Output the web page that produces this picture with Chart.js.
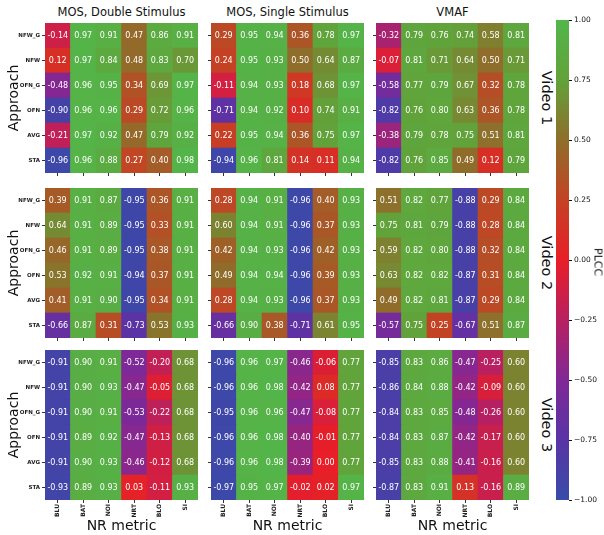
<!DOCTYPE html>
<html>
<head>
<meta charset="utf-8">
<script src="https://cdn.jsdelivr.net/npm/chart.js@4.4.0/dist/chart.umd.min.js"></script>
<style>
  body { margin: 0; background: #fff; width: 604px; height: 535px; position: relative; overflow: hidden; font-family: 'DejaVu Sans', sans-serif; }
  canvas { position: absolute; }
  .lbl { position: absolute; transform: translate(-50%, -50%); white-space: nowrap; color: #111; }
</style>
</head>
<body>
<script>
const approaches = ['NFW_G', 'NFW', 'OFN_G', 'OFN', 'AVG', 'STA'];
const metrics = ['BLU', 'BAT', 'NOI', 'NRT', 'BLO', 'SI'];
const panelTitles = ['MOS, Double Stimulus', 'MOS, Single Stimulus', 'VMAF'];
const videoLabels = ['Video 1', 'Video 2', 'Video 3'];
const cbarTicks = [-1, -0.75, -0.5, -0.25, 0, 0.25, 0.5, 0.75, 1];

// rows follow approaches, columns follow metrics
const v1DS = [
  [-0.14, 0.97, 0.91, 0.47, 0.86, 0.91],
  [0.12, 0.97, 0.84, 0.48, 0.83, 0.70],
  [-0.48, 0.96, 0.95, 0.34, 0.69, 0.97],
  [-0.90, 0.96, 0.96, 0.29, 0.72, 0.96],
  [-0.21, 0.97, 0.92, 0.47, 0.79, 0.92],
  [-0.96, 0.96, 0.88, 0.27, 0.40, 0.98]
];
const v1SS = [
  [0.29, 0.95, 0.94, 0.36, 0.78, 0.97],
  [0.24, 0.95, 0.93, 0.50, 0.64, 0.87],
  [-0.11, 0.94, 0.93, 0.18, 0.68, 0.97],
  [-0.71, 0.94, 0.92, 0.10, 0.74, 0.91],
  [0.22, 0.95, 0.94, 0.36, 0.75, 0.97],
  [-0.94, 0.96, 0.81, 0.14, 0.11, 0.94]
];
const v1VMAF = [
  [-0.32, 0.79, 0.76, 0.74, 0.58, 0.81],
  [-0.07, 0.81, 0.71, 0.64, 0.50, 0.71],
  [-0.58, 0.77, 0.79, 0.67, 0.32, 0.78],
  [-0.82, 0.76, 0.80, 0.63, 0.36, 0.78],
  [-0.38, 0.79, 0.78, 0.75, 0.51, 0.81],
  [-0.82, 0.76, 0.85, 0.49, 0.12, 0.79]
];
const v2DS = [
  [0.39, 0.91, 0.87, -0.95, 0.36, 0.91],
  [0.64, 0.91, 0.89, -0.95, 0.33, 0.91],
  [0.46, 0.91, 0.89, -0.95, 0.38, 0.91],
  [0.53, 0.92, 0.91, -0.94, 0.37, 0.91],
  [0.41, 0.91, 0.90, -0.95, 0.34, 0.91],
  [-0.66, 0.87, 0.31, -0.73, 0.53, 0.93]
];
const v2SS = [
  [0.28, 0.94, 0.91, -0.96, 0.40, 0.93],
  [0.60, 0.94, 0.91, -0.96, 0.37, 0.93],
  [0.42, 0.94, 0.93, -0.96, 0.42, 0.93],
  [0.49, 0.94, 0.94, -0.96, 0.39, 0.93],
  [0.28, 0.94, 0.93, -0.96, 0.37, 0.93],
  [-0.66, 0.90, 0.38, -0.71, 0.61, 0.95]
];
const v2VMAF = [
  [0.51, 0.82, 0.77, -0.88, 0.29, 0.84],
  [0.75, 0.81, 0.79, -0.88, 0.28, 0.84],
  [0.59, 0.82, 0.80, -0.88, 0.32, 0.84],
  [0.63, 0.82, 0.82, -0.87, 0.31, 0.84],
  [0.49, 0.82, 0.81, -0.87, 0.29, 0.84],
  [-0.57, 0.75, 0.25, -0.67, 0.51, 0.87]
];
const v3DS = [
  [-0.91, 0.90, 0.91, -0.52, -0.20, 0.68],
  [-0.91, 0.90, 0.93, -0.47, -0.05, 0.68],
  [-0.91, 0.90, 0.91, -0.53, -0.22, 0.68],
  [-0.91, 0.89, 0.92, -0.47, -0.13, 0.68],
  [-0.91, 0.90, 0.93, -0.46, -0.12, 0.68],
  [-0.93, 0.89, 0.93, 0.03, -0.11, 0.93]
];
const v3SS = [
  [-0.96, 0.96, 0.97, -0.46, -0.06, 0.77],
  [-0.96, 0.96, 0.98, -0.42, 0.08, 0.77],
  [-0.95, 0.96, 0.96, -0.47, -0.08, 0.77],
  [-0.96, 0.96, 0.98, -0.40, -0.01, 0.77],
  [-0.96, 0.96, 0.98, -0.39, 0.00, 0.77],
  [-0.97, 0.95, 0.97, -0.02, 0.02, 0.97]
];
const v3VMAF = [
  [-0.85, 0.83, 0.86, -0.47, -0.25, 0.60],
  [-0.86, 0.84, 0.88, -0.42, -0.09, 0.60],
  [-0.84, 0.83, 0.85, -0.48, -0.26, 0.60],
  [-0.84, 0.83, 0.87, -0.42, -0.17, 0.60],
  [-0.85, 0.83, 0.88, -0.41, -0.16, 0.60],
  [-0.87, 0.83, 0.91, 0.13, -0.16, 0.89]
];

const panels = [
  [v1DS, v1SS, v1VMAF],
  [v2DS, v2SS, v2VMAF],
  [v3DS, v3SS, v3VMAF]
];

// blue -> purple -> red -> brown -> green
const cmapStops = [
  [-1.0, [56, 76, 168]],
  [-0.75, [88, 52, 166]],
  [-0.5, [128, 40, 150]],
  [-0.25, [184, 32, 96]],
  [0.0, [232, 30, 40]],
  [0.25, [196, 66, 36]],
  [0.5, [142, 110, 42]],
  [0.75, [98, 162, 58]],
  [1.0, [82, 182, 74]]
];

function rgb(c) {
  return `rgb(${c.map(Math.round).join(',')})`;
}

function cmap(v) {
  v = Math.max(-1, Math.min(1, v));
  for (let i = 1; i < cmapStops.length; i++) {
    const [v1, c1] = cmapStops[i];
    const [v0, c0] = cmapStops[i - 1];
    if (v <= v1) {
      const t = (v - v0) / (v1 - v0);
      return rgb(c0.map((a, k) => a + (c1[k] - a) * t));
    }
  }
  return rgb(cmapStops[cmapStops.length - 1][1]);
}

const colLeft = [45, 211, 376];
const rowTop = [23, 188, 350];
const cellW = 153;
const cellH = 150;
const yTickFont = { family: 'DejaVu Sans', size: 5.5, weight: 'bold' };
const xTickFont = { family: 'DejaVu Sans', size: 6, weight: 'bold' };

const cellText = {
  id: 'cellText',
  afterDatasetsDraw(chart) {
    const ctx = chart.ctx;
    ctx.save();
    ctx.font = '8px "DejaVu Sans"';
    ctx.fillStyle = '#fff';
    ctx.textAlign = 'center';
    ctx.textBaseline = 'middle';
    chart.data.datasets.forEach((ds, di) => {
      chart.getDatasetMeta(di).data.forEach((bar, j) => {
        const p = bar.getProps(['x', 'y', 'base'], true);
        ctx.fillText(ds.values[j].toFixed(2), p.x, (p.y + p.base) / 2 + 0.5);
      });
    });
    ctx.restore();
  }
};

function addCanvas(left, top, w, h) {
  const c = document.createElement('canvas');
  c.width = w;
  c.height = h;
  c.style.left = left + 'px';
  c.style.top = top + 'px';
  c.style.width = w + 'px';
  c.style.height = h + 'px';
  document.body.appendChild(c);
  return c;
}

function addLabel(text, x, y, size, rotate) {
  const d = document.createElement('div');
  d.className = 'lbl';
  d.textContent = text;
  d.style.left = x + 'px';
  d.style.top = y + 'px';
  d.style.fontSize = size + 'px';
  if (rotate) d.style.transform = `translate(-50%, -50%) rotate(${rotate}deg)`;
  document.body.appendChild(d);
}

function makePanel(r, c, values) {
  const padL = c === 0 ? 44 : 4;
  const padB = r === 2 ? 30 : 4;
  const padT = 2, padR = 2;
  const canvas = addCanvas(colLeft[c] - padL, rowTop[r] - padT, cellW + padL + padR, cellH + padT + padB);

  // stacked bars, bottom dataset = last approach
  const datasets = approaches.map((name, i) => ({
    label: name,
    data: values[i].map(() => 1),
    values: values[i],
    backgroundColor: values[i].map(cmap),
    borderWidth: 0,
    barPercentage: 1,
    categoryPercentage: 1
  })).reverse();

  const gridOpts = { drawOnChartArea: false, drawTicks: true, tickLength: 3, color: '#333', offset: false };

  new Chart(canvas, {
    type: 'bar',
    data: { labels: metrics, datasets: datasets },
    options: {
      responsive: false,
      animation: false,
      layout: { padding: { top: padT, right: padR, left: 0, bottom: 0 } },
      plugins: { legend: { display: false }, tooltip: { enabled: false } },
      scales: {
        x: {
          stacked: true,
          grid: gridOpts,
          border: { display: false },
          ticks: { display: r === 2, font: xTickFont, color: '#222', maxRotation: 90, minRotation: 90, padding: 1, autoSkip: false },
          afterFit(s) { s.height = padB; s.paddingLeft = 0; s.paddingRight = 0; }
        },
        y: {
          stacked: true,
          min: 0,
          max: 6,
          grid: gridOpts,
          border: { display: false },
          afterBuildTicks(s) { s.ticks = approaches.map((_, i) => ({ value: 5.5 - i })); },
          ticks: { display: c === 0, font: yTickFont, color: '#222', padding: 2, callback: v => approaches[Math.round(5.5 - v)] },
          afterFit(s) { s.width = padL; s.paddingTop = 0; s.paddingBottom = 0; }
        }
      }
    },
    plugins: [cellText]
  });
}

panels.forEach((row, r) => row.forEach((vals, c) => makePanel(r, c, vals)));

// colorbar
const cbCanvas = addCanvas(556, 12, 48, 496);
new Chart(cbCanvas, {
  type: 'bar',
  data: {
    labels: [''],
    datasets: [{
      data: [[cbarTicks[0], cbarTicks[cbarTicks.length - 1]]],
      barPercentage: 1,
      categoryPercentage: 1,
      borderWidth: 0,
      backgroundColor(ctx) {
        const ch = ctx.chart;
        if (!ch.chartArea) return cmap(0);
        const ys = ch.scales.y;
        const g = ch.ctx.createLinearGradient(0, ys.getPixelForValue(-1), 0, ys.getPixelForValue(1));
        cmapStops.forEach(([v, col]) => g.addColorStop((v + 1) / 2, rgb(col)));
        return g;
      }
    }]
  },
  options: {
    responsive: false,
    animation: false,
    layout: { padding: { top: 8, bottom: 8, left: 0, right: 0 } },
    plugins: { legend: { display: false }, tooltip: { enabled: false } },
    scales: {
      x: { display: false },
      y: {
        position: 'right',
        min: -1,
        max: 1,
        afterBuildTicks(s) { s.ticks = cbarTicks.map(v => ({ value: v })); },
        ticks: { font: { family: 'DejaVu Sans', size: 7.5 }, color: '#111', padding: 2, callback: v => v.toFixed(2).replace('-', '\u2212') },
        grid: { drawOnChartArea: false, tickLength: 3, color: '#111' },
        border: { display: false },
        afterFit(s) { s.width = 35; }
      }
    }
  }
});

// titles and axis labels
panelTitles.forEach((t, c) => addLabel(t, colLeft[c] + cellW / 2, 12, 11.5));
videoLabels.forEach((t, r) => addLabel(t, 547, rowTop[r] + cellH / 2, 14.5, 90));
rowTop.forEach(t => addLabel('Approach', 13, t + cellH / 2, 14, -90));
colLeft.forEach(l => addLabel('NR metric', l + cellW / 2, 525, 14));
addLabel('PLCC', 598, 262, 11, 90);
</script>
</body>
</html>
